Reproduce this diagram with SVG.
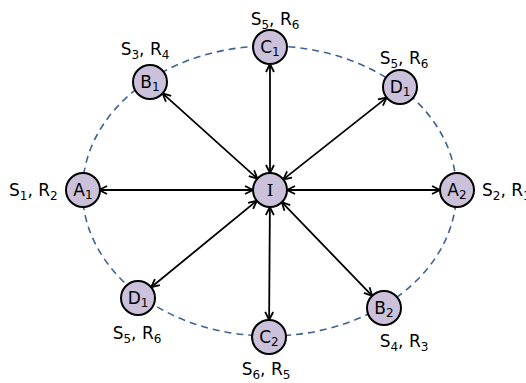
<svg xmlns="http://www.w3.org/2000/svg" width="526" height="383" viewBox="0 0 526 383">
<style>
.nd{fill:#cbc1da;stroke:#000;stroke-width:2}
.nl{font-family:"DejaVu Sans",sans-serif;font-size:17px;text-anchor:middle;fill:#000}
.lb{font-family:"DejaVu Sans",sans-serif;font-size:17px;fill:#000}
.sb{font-size:12px}
.ar{stroke:#000;stroke-width:1.8;fill:none;marker-start:url(#ah);marker-end:url(#ah)}
.ring{fill:none;stroke:#3f6391;stroke-width:1.6;stroke-dasharray:7 5}
</style>
<defs>
<marker id="ah" viewBox="0 0 10 10" refX="9" refY="5" markerWidth="10" markerHeight="10" markerUnits="userSpaceOnUse" orient="auto-start-reverse">
<path d="M1,1 L9,5 L1,9" fill="none" stroke="#000" stroke-width="1.8"/>
</marker>
</defs>
<ellipse class="ring" cx="269.5" cy="191" rx="187" ry="145"/>
<g id="connectors">
<line class="ar" x1="270" y1="173" x2="270" y2="64"/>
<line class="ar" x1="257.4" y1="178.6" x2="162.6" y2="93.4"/>
<line class="ar" x1="283.3" y1="179.4" x2="386.7" y2="97.6"/>
<line class="ar" x1="253" y1="190" x2="99" y2="190"/>
<line class="ar" x1="287" y1="190" x2="440" y2="190"/>
<line class="ar" x1="256.8" y1="200.8" x2="151.2" y2="287.2"/>
<line class="ar" x1="269.9" y1="207" x2="269.1" y2="320"/>
<line class="ar" x1="281.8" y1="202.2" x2="372.2" y2="295.8"/>
</g>
<g id="I"><circle class="nd" cx="270" cy="190" r="17"/><text class="nl" x="270" y="196" style="font-family:'DejaVu Serif',serif">I</text></g>
<g id="C1"><circle class="nd" cx="270" cy="47" r="17"/><text class="nl" x="270" y="53">C<tspan class="sb" dy="3">1</tspan></text>
<text class="lb" x="275" y="25" text-anchor="middle">S<tspan class="sb" dy="4">5</tspan><tspan dy="-4">, R</tspan><tspan class="sb" dy="4">6</tspan></text></g>
<g id="B1"><circle class="nd" cx="150" cy="82" r="17"/><text class="nl" x="150" y="88">B<tspan class="sb" dy="3">1</tspan></text>
<text class="lb" x="145" y="55" text-anchor="middle">S<tspan class="sb" dy="4">3</tspan><tspan dy="-4">, R</tspan><tspan class="sb" dy="4">4</tspan></text></g>
<g id="D1a"><circle class="nd" cx="400" cy="87" r="17"/><text class="nl" x="400" y="93">D<tspan class="sb" dy="3">1</tspan></text>
<text class="lb" x="404" y="64" text-anchor="middle">S<tspan class="sb" dy="4">5</tspan><tspan dy="-4">, R</tspan><tspan class="sb" dy="4">6</tspan></text></g>
<g id="A1"><circle class="nd" cx="83" cy="190" r="17"/><text class="nl" x="83" y="196">A<tspan class="sb" dy="3">1</tspan></text>
<text class="lb" x="9" y="196">S<tspan class="sb" dy="4">1</tspan><tspan dy="-4">, R</tspan><tspan class="sb" dy="4">2</tspan></text></g>
<g id="A2"><circle class="nd" cx="457" cy="190" r="17"/><text class="nl" x="457" y="196">A<tspan class="sb" dy="3">2</tspan></text>
<text class="lb" x="482" y="196">S<tspan class="sb" dy="4">2</tspan><tspan dy="-4">, R</tspan><tspan class="sb" dy="4">1</tspan></text></g>
<g id="D1b"><circle class="nd" cx="138" cy="298" r="17"/><text class="nl" x="138" y="304">D<tspan class="sb" dy="3">1</tspan></text>
<text class="lb" x="137" y="339" text-anchor="middle">S<tspan class="sb" dy="4">5</tspan><tspan dy="-4">, R</tspan><tspan class="sb" dy="4">6</tspan></text></g>
<g id="C2"><circle class="nd" cx="269" cy="337" r="17"/><text class="nl" x="269" y="343">C<tspan class="sb" dy="3">2</tspan></text>
<text class="lb" x="266" y="375" text-anchor="middle">S<tspan class="sb" dy="4">6</tspan><tspan dy="-4">, R</tspan><tspan class="sb" dy="4">5</tspan></text></g>
<g id="B2"><circle class="nd" cx="384" cy="308" r="17"/><text class="nl" x="384" y="314">B<tspan class="sb" dy="3">2</tspan></text>
<text class="lb" x="404" y="347" text-anchor="middle">S<tspan class="sb" dy="4">4</tspan><tspan dy="-4">, R</tspan><tspan class="sb" dy="4">3</tspan></text></g>
</svg>
